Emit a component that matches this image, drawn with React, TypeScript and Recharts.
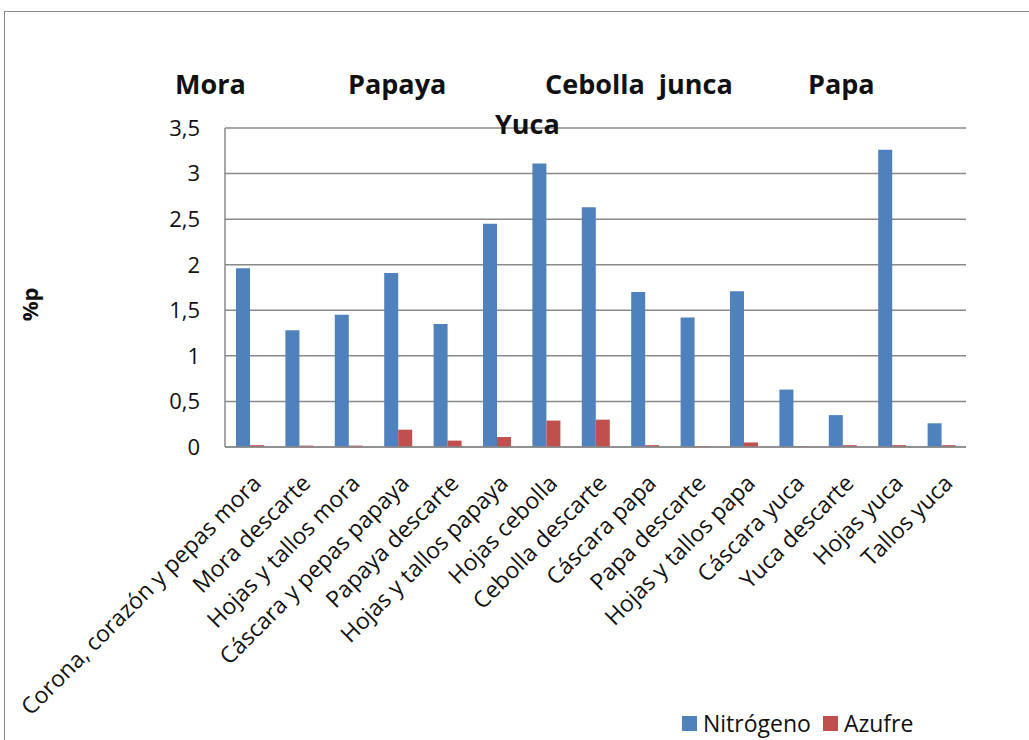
import { BarChart, Bar, XAxis, YAxis, CartesianGrid, Legend } from 'recharts';

const categories = [
  'Corona, corazón y pepas mora',
  'Mora descarte',
  'Hojas y tallos mora',
  'Cáscara y pepas papaya',
  'Papaya descarte',
  'Hojas y tallos papaya',
  'Hojas cebolla',
  'Cebolla descarte',
  'Cáscara papa',
  'Papa descarte',
  'Hojas y tallos papa',
  'Cáscara yuca',
  'Yuca descarte',
  'Hojas yuca',
  'Tallos yuca',
];

const nitrogeno = [1.96, 1.28, 1.45, 1.91, 1.35, 2.45, 3.11, 2.63, 1.7, 1.42, 1.71, 0.63, 0.35, 3.26, 0.26];
const azufre = [0.02, 0.015, 0.015, 0.19, 0.07, 0.11, 0.29, 0.3, 0.02, 0.01, 0.05, 0.01, 0.02, 0.02, 0.02];

const yTicks = [0, 0.5, 1, 1.5, 2, 2.5, 3, 3.5];

const series = [
  { key: 'nitrogeno', name: 'Nitrógeno', color: '#4F81BD' },
  { key: 'azufre', name: 'Azufre', color: '#C0504D' },
];

const groupTitles = [
  { text: 'Mora', left: 175, top: 70 },
  { text: 'Papaya', left: 348, top: 70 },
  { text: 'Cebolla  junca', left: 545, top: 70 },
  { text: 'Papa', left: 808, top: 70 },
  { text: 'Yuca', left: 495, top: 110 },
];

const data = categories.map((name, i) => ({ name, nitrogeno: nitrogeno[i], azufre: azufre[i] }));

const FONT = '"Open Sans", sans-serif';
const GRID = '#8a8a8a';

function AngledTick({ x, y, payload }: any) {
  return (
    <g transform={`translate(${x},${y})`}>
      <text x={-12} y={0} dy={30} textAnchor="end" transform="rotate(-45)" fontSize={23} fill="#111" fontFamily={FONT}>
        {payload.value}
      </text>
    </g>
  );
}

function LegendBox() {
  return (
    <div style={{ display: 'flex', alignItems: 'center', height: 28, lineHeight: '28px', fontSize: 23, fontFamily: FONT, color: '#111' }}>
      {series.map((s) => (
        <div key={s.key} style={{ display: 'flex', alignItems: 'center', marginRight: 12 }}>
          <span style={{ display: 'inline-block', width: 15, height: 15, background: s.color, marginRight: 6 }} />
          <span>{s.name}</span>
        </div>
      ))}
    </div>
  );
}

export default function App() {
  return (
    <div style={{ position: 'fixed', left: 0, top: 0, width: 1029, height: 740, overflow: 'hidden', background: '#fff', fontFamily: FONT }}>
      <div
        style={{
          position: 'absolute',
          left: 4,
          top: 11,
          width: 1100,
          height: 800,
          border: `1.5px solid ${GRID}`,
        }}
      />
      <BarChart
        width={1029}
        height={740}
        data={data}
        margin={{ top: 128, right: 63, bottom: 8, left: 165 }}
        barSize={14}
        barGap={0}
      >
        <CartesianGrid vertical={false} stroke={GRID} strokeWidth={1.5} />
        <XAxis
          dataKey="name"
          interval={0}
          tickLine={false}
          axisLine={{ stroke: GRID, strokeWidth: 1.5 }}
          tick={<AngledTick />}
          height={257}
        />
        <YAxis
          domain={[0, 3.5]}
          ticks={yTicks}
          width={60}
          tickLine={false}
          tickMargin={19}
          axisLine={{ stroke: GRID, strokeWidth: 1.5 }}
          tick={{ fontSize: 22, fill: '#111', fontFamily: FONT }}
          tickFormatter={(v: number) => String(v).replace('.', ',')}
          label={{ value: '%p', angle: -90, position: 'left', offset: 135, fontSize: 22, fontWeight: 700, fill: '#111', fontFamily: FONT }}
        />
        <Legend
          content={<LegendBox />}
          wrapperStyle={{ left: 682, top: 709, width: 320, height: 28 }}
        />
        {series.map((s) => (
          <Bar key={s.key} dataKey={s.key} name={s.name} fill={s.color} isAnimationActive={false} />
        ))}
      </BarChart>
      {groupTitles.map((t) => (
        <div
          key={t.text}
          style={{ position: 'absolute', left: t.left, top: t.top, fontSize: 27, fontWeight: 700, color: '#111', whiteSpace: 'pre', lineHeight: '28px' }}
        >
          {t.text}
        </div>
      ))}
    </div>
  );
}
